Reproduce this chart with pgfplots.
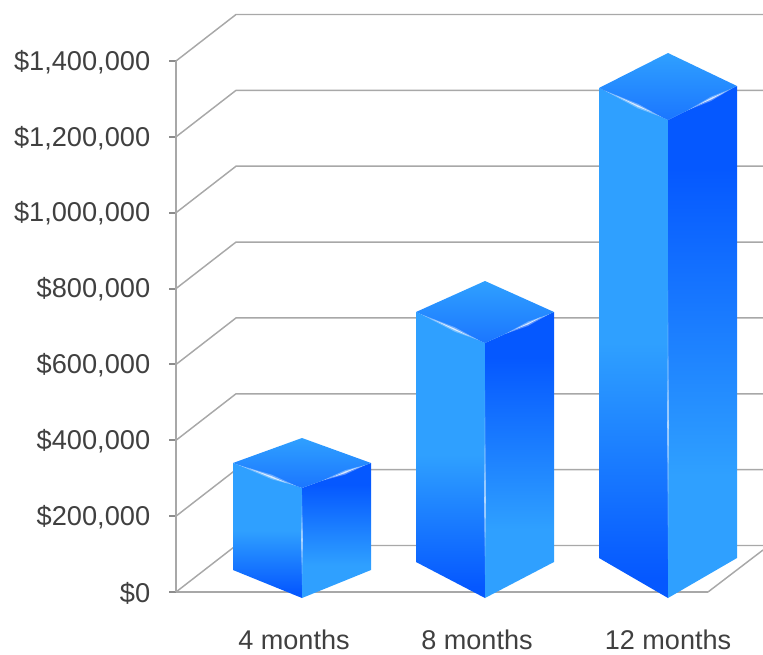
\documentclass[border=0pt]{standalone}
\usepackage{fontspec}
\setmainfont{Liberation Sans}
\usepackage{pgfplots}
\pgfplotsset{compat=1.18}

\definecolor{lightblue}{HTML}{2FA0FF}
\definecolor{deepblue}{HTML}{0558FF}
\definecolor{topblue}{HTML}{1B76FF}
\definecolor{gridgray}{HTML}{A8A8A8}
\definecolor{labelgray}{HTML}{404040}

% 100bp tall, the path's box maps onto 25bp..75bp
\pgfdeclareverticalshading{leftface}{100bp}{color(0bp)=(deepblue); color(27bp)=(deepblue); color(50bp)=(lightblue); color(100bp)=(lightblue)}
\pgfdeclareverticalshading{rightface}{100bp}{color(0bp)=(lightblue); color(37bp)=(lightblue); color(67bp)=(deepblue); color(100bp)=(deepblue)}
\pgfdeclareverticalshading{topface}{100bp}{color(0bp)=(topblue); color(25bp)=(topblue); color(75bp)=(lightblue); color(100bp)=(lightblue)}

\pgfplotsset{
  face/.style={draw=none, mark=none, shade, shading=#1},
  gline/.style={gridgray, line width=1.1pt, mark=none},
  glint/.style={draw=none, fill=white, mark=none, opacity=#1},
}

\begin{document}
\begin{tikzpicture}
\path[use as bounding box] (0,0) rectangle (572.25pt,490.5pt);
\begin{axis}[
    at={(132pt,46.5pt)}, anchor=south west,
    scale only axis, width=399pt, height=398.25pt,
    xmin=176, xmax=708, ymin=0, ymax=1400000,
    clip=false,
    axis x line*=bottom, axis y line*=left,
    axis line style={-, gridgray, line width=1.1pt},
    scaled ticks=false,
    xtick={294,477,668},
    xticklabels={4 months,8 months,12 months},
    ytick={0,200000,400000,600000,800000,1000000,1200000,1400000},
    yticklabels={{\$0},{\$200,000},{\$400,000},{\$600,000},{\$800,000},{\$1,000,000},{\$1,200,000},{\$1,400,000}},
    tick align=outside,
    major tick length=5.25pt,
    x tick style={draw=none},
    y tick style={color=gray!90, line width=1.4pt},
    tick label style={font=\fontsize{20.4}{24}\selectfont, text=labelgray},
    xticklabel style={yshift=-20pt, font=\fontsize{20.3}{24}\selectfont},
    yticklabel style={xshift=-10.6pt, yshift=-0.7pt},
]
% back wall and side lines
\addplot[gline] coordinates {(176,0) (236,122597) (763,122597)};
\addplot[gline] coordinates {(176,200000) (236,322597) (763,322597)};
\addplot[gline] coordinates {(176,400000) (236,522597) (763,522597)};
\addplot[gline] coordinates {(176,600000) (236,722597) (763,722597)};
\addplot[gline] coordinates {(176,800000) (236,922597) (763,922597)};
\addplot[gline] coordinates {(176,1000000) (236,1122597) (763,1122597)};
\addplot[gline] coordinates {(176,1200000) (236,1322597) (763,1322597)};
\addplot[gline] coordinates {(176,1400000) (236,1522597) (763,1522597)};
\addplot[gline] coordinates {(708,0) (763,110733)};

% 4 months
\addplot[face=leftface] coordinates {(233,340109) (302,274196) (302,-15819) (233,58003)} -- cycle;
\addplot[face=rightface] coordinates {(302,274196) (371,340109) (371,58003) (302,-15819)} -- cycle;
\addplot[face=topface] coordinates {(302,406021) (371,340109) (302,274196) (233,340109)} -- cycle;
\addplot[glint=0.35] coordinates {(238,335363) (272,309000) (296,279996) (272,297000)} -- cycle;
\addplot[glint=0.35] coordinates {(366,335363) (345,321000) (322,293442) (345,309500)} -- cycle;
\addplot[glint=0.7] coordinates {(250,325000) (272,305000) (286,288000) (272,300500)} -- cycle;
\addplot[glint=0.7] coordinates {(358,329000) (345,317500) (333,303000) (345,313200)} -- cycle;
\addplot[glint=0.3] coordinates {(302,255741) (303,137098) (302,18456) (301,137098)} -- cycle;
\addplot[glint=0.5] coordinates {(302,203011) (302.8,137098) (302,71186) (301.2,137098)} -- cycle;

% 8 months
\addplot[face=leftface] coordinates {(416,738220) (485,656489) (485,-15819) (416,79095)} -- cycle;
\addplot[face=rightface] coordinates {(485,656489) (554,738220) (554,79095) (485,-15819)} -- cycle;
\addplot[face=topface] coordinates {(485,819952) (554,738220) (485,656489) (416,738220)} -- cycle;
\addplot[glint=0.35] coordinates {(421,732420) (455,698000) (479,663607) (455,686000)} -- cycle;
\addplot[glint=0.35] coordinates {(549,732420) (528,713000) (505,680217) (528,701500)} -- cycle;
\addplot[glint=0.7] coordinates {(433,719000) (455,694000) (469,675000) (455,690000)} -- cycle;
\addplot[glint=0.7] coordinates {(541,725000) (528,709000) (516,694000) (528,705300)} -- cycle;
\addplot[glint=0.3] coordinates {(485,532573) (486,242558) (485,44821) (484,242558)} -- cycle;
\addplot[glint=0.5] coordinates {(485,380000) (485.8,242558) (485,120000) (484.2,242558)} -- cycle;

% 12 months
\addplot[face=leftface] coordinates {(599,1328796) (668,1244428) (668,-15819) (599,89641)} -- cycle;
\addplot[face=rightface] coordinates {(668,1244428) (737,1334069) (737,89641) (668,-15819)} -- cycle;
\addplot[face=topface] coordinates {(668,1421074) (737,1334069) (668,1244428) (599,1328796)} -- cycle;
\addplot[glint=0.35] coordinates {(604,1322732) (638,1287000) (662,1251810) (638,1275000)} -- cycle;
\addplot[glint=0.35] coordinates {(732,1327478) (711,1306000) (688,1270529) (711,1294500)} -- cycle;
\addplot[glint=0.7] coordinates {(616,1309000) (638,1283000) (652,1265000) (638,1279000)} -- cycle;
\addplot[glint=0.7] coordinates {(724,1317000) (711,1302500) (699,1285500) (711,1298200)} -- cycle;
\addplot[glint=0.3] coordinates {(668,796223) (669,440296) (668,84368) (667,440296)} -- cycle;
\addplot[glint=0.5] coordinates {(668,611668) (668.8,440296) (668,295288) (667.2,440296)} -- cycle;
\end{axis}
\end{tikzpicture}
\end{document}
